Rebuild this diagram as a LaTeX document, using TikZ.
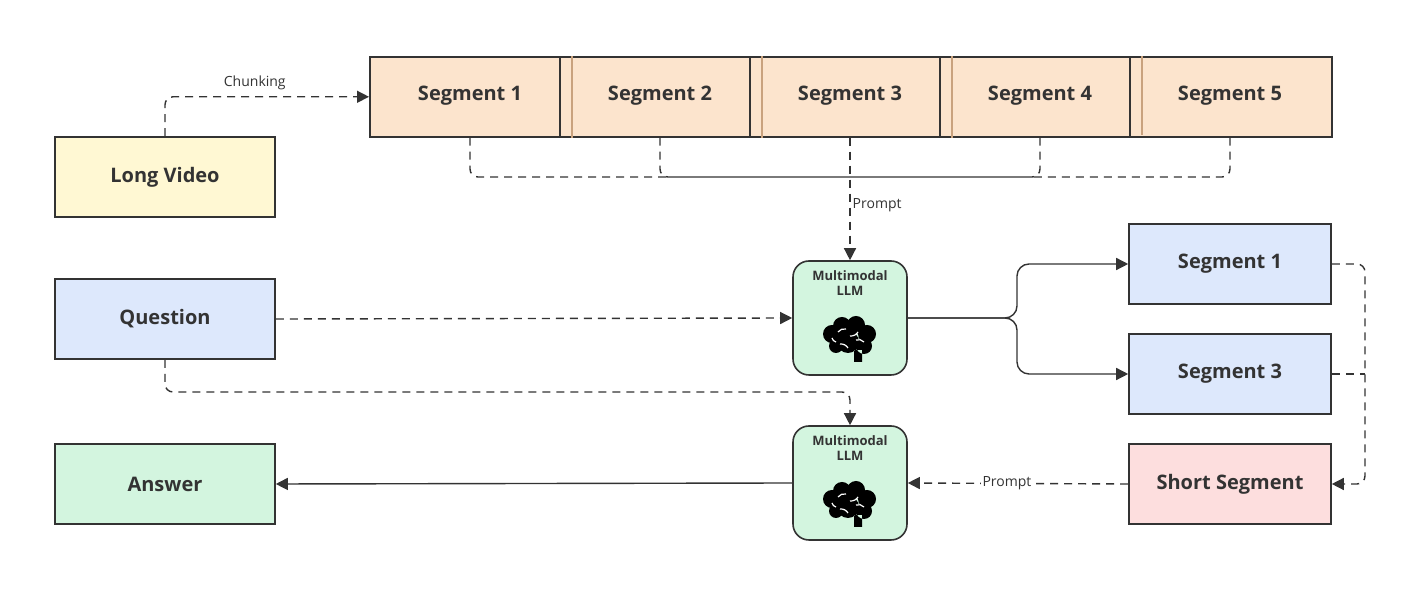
\documentclass[tikz,border=0pt]{standalone}
\usepackage{fontspec}
\setmainfont{Open Sans}
\usetikzlibrary{arrows.meta}
\definecolor{segfill}{HTML}{FCE4CD}
\definecolor{segline}{HTML}{C9A27E}
\definecolor{vidfill}{HTML}{FFF8D3}
\definecolor{qfill}{HTML}{DDE8FC}
\definecolor{llmfill}{HTML}{D3F5DF}
\definecolor{shortfill}{HTML}{FDDEDE}
\definecolor{ink}{HTML}{333333}
\tikzset{
  box/.style={draw=ink, line width=0.8pt, minimum width=110pt, minimum height=40pt, font=\bfseries\fontsize{10}{12}\selectfont, text=ink},
  seg/.style={box, fill=segfill, minimum width=95pt},
  llm/.style={draw=ink, line width=0.8pt, fill=llmfill, rounded corners=8pt, minimum width=57pt, minimum height=57pt},
  flow/.style={draw=ink, line width=0.7pt, -{Triangle[length=6pt,width=6pt]}},
  dflow/.style={flow, dashed, dash pattern=on 4pt off 3pt},
  lbl/.style={font=\fontsize{7}{8}\selectfont, text=ink, fill=white, inner sep=1pt},
  brain/.pic={
    \fill[black] (-18,-4) circle (9) (-8,-12) circle (9) (6,-13) circle (9)
      (17,-4) circle (9) (14,8) circle (8) (-2,4) circle (11) (-14,8) circle (7)
      (4,12) rectangle (12,24);
    \draw[white, line width=0.6pt] (-12,-6) to[bend left] (-4,-9) (0,-2) to[bend right] (8,-6)
      (-10,6) to[bend left] (-2,10) (6,2) to[bend left] (14,4) (-18,0) to[bend right] (-14,4);
  },
}
\begin{document}
\begin{tikzpicture}[x=0.5pt, y=-0.5pt]
  \useasboundingbox (0,0) rectangle (1420,597);
  % left column
  \node[box, fill=vidfill] (video) at (165,177) {Long Video};
  \node[box, fill=qfill] (question) at (165,319) {Question};
  \node[box, fill=llmfill] (answer) at (165,484) {Answer};
  % segments strip
  \foreach \i in {1,...,5} {
    \node[seg, anchor=north west] (seg\i) at ({369+190*(\i-1)},56) {};
  }
  \foreach \i in {2,...,5} {
    \draw[segline, line width=0.8pt] ([xshift=6.5pt]seg\i.north west) -- ([xshift=6.5pt]seg\i.south west);
  }
  \node[seg, anchor=north west, minimum width=101pt] at (1129,56) {};
  \draw[segline, line width=0.8pt] (1142,56) -- (1142,135);
  \foreach \i in {1,...,5} {
    \node[font=\bfseries\fontsize{10}{12}\selectfont, text=ink] (segtxt\i) at ({470+190*(\i-1)},96) {Segment \i};
  }
  % models
  \node[llm] (llmA) at (850,318) {};
  \node[font=\bfseries\fontsize{6.5}{7.5}\selectfont, align=center, text=ink] at (850,283) {Multimodal\\LLM};
  \pic at (850,338) {brain};
  \node[llm] (llmB) at (850,483) {};
  \node[font=\bfseries\fontsize{6.5}{7.5}\selectfont, align=center, text=ink] at (850,448) {Multimodal\\LLM};
  \pic at (850,503) {brain};
  % right column
  \node[box, fill=qfill, minimum width=101pt] (pick1) at (1230,264) {Segment 1};
  \node[box, fill=qfill, minimum width=101pt] (pick3) at (1230,374) {Segment 3};
  \node[box, fill=shortfill, minimum width=101pt] (short) at (1230,484) {Short Segment};
  \coordinate (join) at (850,177);
  % connectors
  \draw[dflow, rounded corners=4pt] (video.north) |- node[pos=0.72, above=2pt, lbl] {Chunking} (seg1.west);
  \draw[ink, line width=0.7pt, dashed, dash pattern=on 4pt off 3pt, rounded corners=4pt]
    (segtxt1 |- seg1.south) |- (join)
    (segtxt2 |- seg1.south) |- (join)
    (segtxt4 |- seg1.south) |- (join)
    (segtxt5 |- seg1.south) |- (join);
  \draw[dflow] (segtxt3 |- seg1.south) -- node[pos=0.55, right=0pt, lbl] {Prompt} (llmA.north);
  \draw[dflow] (question.east) -- (llmA.west);
  \draw[dflow, rounded corners=4pt] (question.south) |- (850,392) -- (llmB.north);
  \draw[flow, rounded corners=6pt] (llmA.east) -| (1017,264) -- (pick1.west);
  \draw[flow, rounded corners=6pt] (llmA.east) -| (1017,374) -- (pick3.west);
  \draw[dflow, rounded corners=4pt] (pick1.east) -| (1365,484) -- (short.east);
  \draw[ink, line width=0.7pt, dashed, dash pattern=on 4pt off 3pt] (pick3.east) -- (1365,374);
  \draw[dflow] (short.west) -- node[pos=0.55, lbl] {Prompt} (llmB.east);
  \draw[flow] (llmB.west) -- (answer.east);
\end{tikzpicture}
\end{document}
